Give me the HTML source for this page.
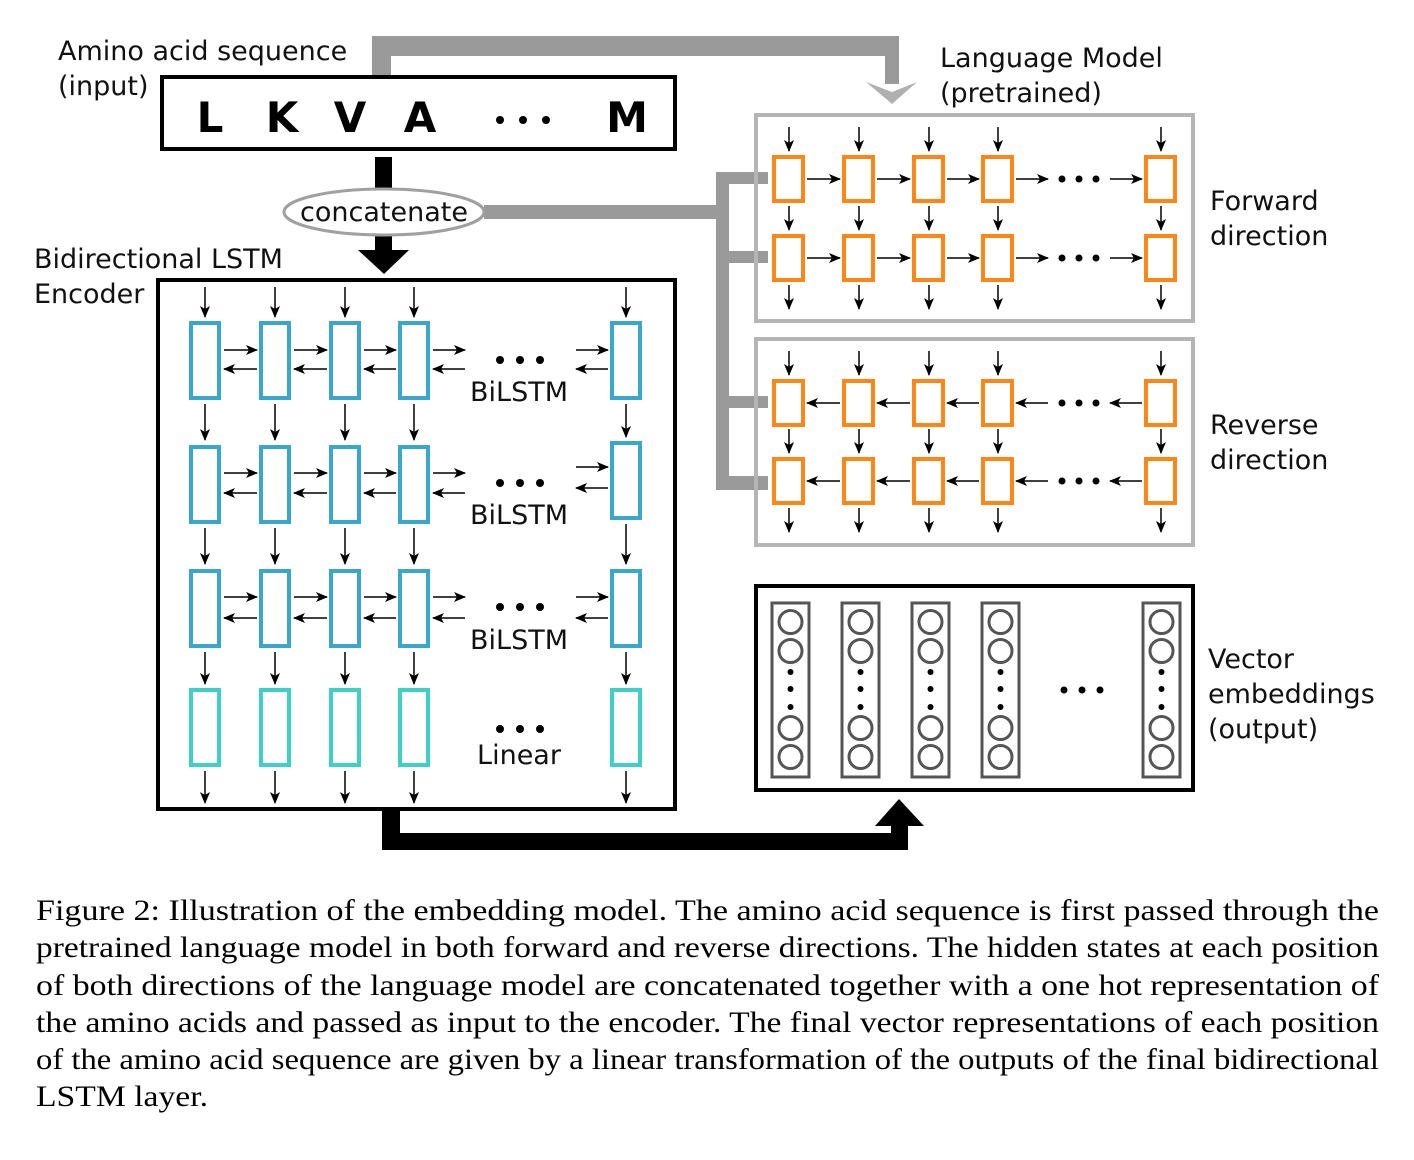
<!DOCTYPE html>
<html><head><meta charset="utf-8"><style>
html,body{margin:0;padding:0;background:#fff;}
svg{display:block;}
.lb{font-family:"DejaVu Sans","Liberation Sans",sans-serif;font-size:27px;fill:#111;}
.cap{font-family:"Liberation Serif",serif;font-size:29.5px;fill:#000;}
</style></head><body>
<svg width="1414" height="1160" viewBox="0 0 1414 1160" xmlns="http://www.w3.org/2000/svg">
<defs>
<marker id="a" markerWidth="12" markerHeight="10" refX="11" refY="5" orient="auto" markerUnits="userSpaceOnUse">
<path d="M0,0 L12,5 L0,10 L3,5 z" fill="#000"/></marker>
</defs>

<!-- labels -->
<text class="lb" x="58" y="60">Amino acid sequence</text>
<text class="lb" x="58" y="95">(input)</text>
<text class="lb" x="940" y="67">Language Model</text>
<text class="lb" x="940" y="102">(pretrained)</text>
<text class="lb" x="34" y="268">Bidirectional LSTM</text>
<text class="lb" x="34" y="303">Encoder</text>
<text class="lb" x="1210" y="210">Forward</text>
<text class="lb" x="1210" y="245">direction</text>
<text class="lb" x="1210" y="434">Reverse</text>
<text class="lb" x="1210" y="469">direction</text>
<text class="lb" x="1208" y="668">Vector</text>
<text class="lb" x="1208" y="703">embeddings</text>
<text class="lb" x="1208" y="738">(output)</text>

<!-- gray top arrow -->
<path d="M372,76 V36 H899 V84 H885 V56 H391 V76 z" fill="#9a9a9a"/>
<path d="M866,82 L892,104 L917,82 L892,92 z" fill="#b0b0b0"/>

<!-- input box -->
<rect x="162" y="77" width="513" height="72" fill="#fff" stroke="#000" stroke-width="4"/>
<g font-family="DejaVu Sans,Liberation Sans,sans-serif" font-weight="bold" font-size="42" fill="#000" text-anchor="middle">
<text x="210" y="132">L</text><text x="282" y="132">K</text><text x="350" y="132">V</text><text x="420" y="132">A</text><text x="627" y="132">M</text></g>
<circle cx="500" cy="120" r="4"/><circle cx="523" cy="120" r="4"/><circle cx="546" cy="120" r="4"/>

<!-- black arrow down & concatenate -->
<rect x="375" y="157" width="17" height="35" fill="#000"/>
<rect x="375" y="232" width="17" height="20" fill="#000"/>
<path d="M358,250 L409,250 L384,274 z" fill="#000"/>
<rect x="484" y="205" width="234" height="14" fill="#9a9a9a"/>
<ellipse cx="384" cy="212" rx="100" ry="23" fill="#fff" stroke="#a0a0a0" stroke-width="3"/>
<text class="lb" x="384" y="221" text-anchor="middle">concatenate</text>

<!-- gray connector bar -->
<rect x="716" y="172" width="13" height="318" fill="#9a9a9a"/>
<rect x="716" y="172" width="52" height="12" fill="#9a9a9a"/>
<rect x="716" y="251" width="52" height="12" fill="#9a9a9a"/>
<rect x="716" y="396" width="52" height="12" fill="#9a9a9a"/>
<rect x="716" y="476" width="52" height="14" fill="#9a9a9a"/>

<!-- LM boxes -->
<rect x="756" y="115" width="437" height="206" fill="none" stroke="#b5b5b5" stroke-width="4"/>
<rect x="756" y="339" width="437" height="206" fill="none" stroke="#b5b5b5" stroke-width="4"/>

<g fill="#fff" stroke="#ff8717" stroke-width="4">
<rect x="774" y="157" width="29" height="44"/><rect x="844" y="157" width="29" height="44"/><rect x="914" y="157" width="29" height="44"/><rect x="983" y="157" width="29" height="44"/><rect x="1146" y="157" width="29" height="44"/>
<rect x="774" y="236" width="29" height="44"/><rect x="844" y="236" width="29" height="44"/><rect x="914" y="236" width="29" height="44"/><rect x="983" y="236" width="29" height="44"/><rect x="1146" y="236" width="29" height="44"/>
<rect x="774" y="381" width="29" height="44"/><rect x="844" y="381" width="29" height="44"/><rect x="914" y="381" width="29" height="44"/><rect x="983" y="381" width="29" height="44"/><rect x="1146" y="381" width="29" height="44"/>
<rect x="774" y="459" width="29" height="44"/><rect x="844" y="459" width="29" height="44"/><rect x="914" y="459" width="29" height="44"/><rect x="983" y="459" width="29" height="44"/><rect x="1146" y="459" width="29" height="44"/>
</g>

<g stroke="#000" stroke-width="1.5" marker-end="url(#a)">
<!-- LM vertical arrows -->
<line x1="789" y1="127" x2="789" y2="151"/><line x1="859" y1="127" x2="859" y2="151"/><line x1="929" y1="127" x2="929" y2="151"/><line x1="998" y1="127" x2="998" y2="151"/><line x1="1161" y1="127" x2="1161" y2="151"/>
<line x1="789" y1="206" x2="789" y2="230"/><line x1="859" y1="206" x2="859" y2="230"/><line x1="929" y1="206" x2="929" y2="230"/><line x1="998" y1="206" x2="998" y2="230"/><line x1="1161" y1="206" x2="1161" y2="230"/>
<line x1="789" y1="285" x2="789" y2="309"/><line x1="859" y1="285" x2="859" y2="309"/><line x1="929" y1="285" x2="929" y2="309"/><line x1="998" y1="285" x2="998" y2="309"/><line x1="1161" y1="285" x2="1161" y2="309"/>
<line x1="789" y1="351" x2="789" y2="375"/><line x1="859" y1="351" x2="859" y2="375"/><line x1="929" y1="351" x2="929" y2="375"/><line x1="998" y1="351" x2="998" y2="375"/><line x1="1161" y1="351" x2="1161" y2="375"/>
<line x1="789" y1="429" x2="789" y2="453"/><line x1="859" y1="429" x2="859" y2="453"/><line x1="929" y1="429" x2="929" y2="453"/><line x1="998" y1="429" x2="998" y2="453"/><line x1="1161" y1="429" x2="1161" y2="453"/>
<line x1="789" y1="508" x2="789" y2="532"/><line x1="859" y1="508" x2="859" y2="532"/><line x1="929" y1="508" x2="929" y2="532"/><line x1="998" y1="508" x2="998" y2="532"/><line x1="1161" y1="508" x2="1161" y2="532"/>
<!-- forward horizontals -->
<line x1="807" y1="179" x2="840" y2="179"/><line x1="877" y1="179" x2="910" y2="179"/><line x1="947" y1="179" x2="979" y2="179"/><line x1="1016" y1="179" x2="1048" y2="179"/><line x1="1110" y1="179" x2="1142" y2="179"/>
<line x1="807" y1="258" x2="840" y2="258"/><line x1="877" y1="258" x2="910" y2="258"/><line x1="947" y1="258" x2="979" y2="258"/><line x1="1016" y1="258" x2="1048" y2="258"/><line x1="1110" y1="258" x2="1142" y2="258"/>
<!-- reverse horizontals -->
<line x1="840" y1="403" x2="807" y2="403"/><line x1="910" y1="403" x2="877" y2="403"/><line x1="979" y1="403" x2="947" y2="403"/><line x1="1048" y1="403" x2="1016" y2="403"/><line x1="1142" y1="403" x2="1110" y2="403"/>
<line x1="840" y1="481" x2="807" y2="481"/><line x1="910" y1="481" x2="877" y2="481"/><line x1="979" y1="481" x2="947" y2="481"/><line x1="1048" y1="481" x2="1016" y2="481"/><line x1="1142" y1="481" x2="1110" y2="481"/>
</g>
<g fill="#000">
<circle cx="1062" cy="179" r="3.5"/><circle cx="1079" cy="179" r="3.5"/><circle cx="1096" cy="179" r="3.5"/>
<circle cx="1062" cy="258" r="3.5"/><circle cx="1079" cy="258" r="3.5"/><circle cx="1096" cy="258" r="3.5"/>
<circle cx="1062" cy="403" r="3.5"/><circle cx="1079" cy="403" r="3.5"/><circle cx="1096" cy="403" r="3.5"/>
<circle cx="1062" cy="481" r="3.5"/><circle cx="1079" cy="481" r="3.5"/><circle cx="1096" cy="481" r="3.5"/>
</g>

<!-- bottom black arrow -->
<path d="M382,808 V850 H908 V826 H924 L899,799 L875,826 H891 V833 H400 V808 z" fill="#000"/>

<!-- encoder -->
<rect x="158" y="280" width="517" height="529" fill="#fff" stroke="#000" stroke-width="4"/>
<g fill="#fff" stroke="#3aa6c9" stroke-width="4">
<rect x="191" y="323" width="28" height="75"/><rect x="261" y="323" width="28" height="75"/><rect x="331" y="323" width="28" height="75"/><rect x="400" y="323" width="28" height="75"/><rect x="612" y="323" width="28" height="75"/>
<rect x="191" y="447" width="28" height="75"/><rect x="261" y="447" width="28" height="75"/><rect x="331" y="447" width="28" height="75"/><rect x="400" y="447" width="28" height="75"/><rect x="612" y="443" width="28" height="75"/>
<rect x="191" y="571" width="28" height="75"/><rect x="261" y="571" width="28" height="75"/><rect x="331" y="571" width="28" height="75"/><rect x="400" y="571" width="28" height="75"/><rect x="612" y="571" width="28" height="75"/>
</g>
<g fill="#fff" stroke="#3ed0c4" stroke-width="4">
<rect x="191" y="690" width="28" height="75"/><rect x="261" y="690" width="28" height="75"/><rect x="331" y="690" width="28" height="75"/><rect x="400" y="690" width="28" height="75"/><rect x="612" y="690" width="28" height="75"/>
</g>
<g stroke="#000" stroke-width="1.5" marker-end="url(#a)">
<line x1="205" y1="287" x2="205" y2="317"/><line x1="275" y1="287" x2="275" y2="317"/><line x1="345" y1="287" x2="345" y2="317"/><line x1="414" y1="287" x2="414" y2="317"/><line x1="626" y1="287" x2="626" y2="317"/>
<line x1="205" y1="404" x2="205" y2="440"/><line x1="275" y1="404" x2="275" y2="440"/><line x1="345" y1="404" x2="345" y2="440"/><line x1="414" y1="404" x2="414" y2="440"/><line x1="626" y1="404" x2="626" y2="437"/>
<line x1="205" y1="528" x2="205" y2="564"/><line x1="275" y1="528" x2="275" y2="564"/><line x1="345" y1="528" x2="345" y2="564"/><line x1="414" y1="528" x2="414" y2="564"/><line x1="626" y1="524" x2="626" y2="564"/>
<line x1="205" y1="652" x2="205" y2="684"/><line x1="275" y1="652" x2="275" y2="684"/><line x1="345" y1="652" x2="345" y2="684"/><line x1="414" y1="652" x2="414" y2="684"/><line x1="626" y1="652" x2="626" y2="684"/>
<line x1="205" y1="771" x2="205" y2="803"/><line x1="275" y1="771" x2="275" y2="803"/><line x1="345" y1="771" x2="345" y2="803"/><line x1="414" y1="771" x2="414" y2="803"/><line x1="626" y1="771" x2="626" y2="803"/>
<!-- bilstm row1 -->
<line x1="224" y1="350" x2="257" y2="350"/><line x1="294" y1="350" x2="327" y2="350"/><line x1="364" y1="350" x2="396" y2="350"/><line x1="433" y1="350" x2="465" y2="350"/><line x1="576" y1="350" x2="608" y2="350"/>
<line x1="257" y1="369" x2="224" y2="369"/><line x1="327" y1="369" x2="294" y2="369"/><line x1="396" y1="369" x2="364" y2="369"/><line x1="465" y1="369" x2="433" y2="369"/><line x1="608" y1="369" x2="576" y2="369"/>
<!-- row2 -->
<line x1="224" y1="473" x2="257" y2="473"/><line x1="294" y1="473" x2="327" y2="473"/><line x1="364" y1="473" x2="396" y2="473"/><line x1="433" y1="473" x2="465" y2="473"/><line x1="576" y1="467" x2="608" y2="467"/>
<line x1="257" y1="493" x2="224" y2="493"/><line x1="327" y1="493" x2="294" y2="493"/><line x1="396" y1="493" x2="364" y2="493"/><line x1="465" y1="493" x2="433" y2="493"/><line x1="608" y1="488" x2="576" y2="488"/>
<!-- row3 -->
<line x1="224" y1="597" x2="257" y2="597"/><line x1="294" y1="597" x2="327" y2="597"/><line x1="364" y1="597" x2="396" y2="597"/><line x1="433" y1="597" x2="465" y2="597"/><line x1="576" y1="597" x2="608" y2="597"/>
<line x1="257" y1="618" x2="224" y2="618"/><line x1="327" y1="618" x2="294" y2="618"/><line x1="396" y1="618" x2="364" y2="618"/><line x1="465" y1="618" x2="433" y2="618"/><line x1="608" y1="618" x2="576" y2="618"/>
</g>
<g fill="#000">
<circle cx="500" cy="360" r="4"/><circle cx="520" cy="360" r="4"/><circle cx="540" cy="360" r="4"/>
<circle cx="500" cy="483" r="4"/><circle cx="520" cy="483" r="4"/><circle cx="540" cy="483" r="4"/>
<circle cx="500" cy="607" r="4"/><circle cx="520" cy="607" r="4"/><circle cx="540" cy="607" r="4"/>
<circle cx="500" cy="729" r="4"/><circle cx="520" cy="729" r="4"/><circle cx="540" cy="729" r="4"/>
</g>
<text class="lb" x="519" y="401" text-anchor="middle">BiLSTM</text>
<text class="lb" x="519" y="524" text-anchor="middle">BiLSTM</text>
<text class="lb" x="519" y="649" text-anchor="middle">BiLSTM</text>
<text class="lb" x="519" y="764" text-anchor="middle">Linear</text>

<!-- vector embeddings -->
<rect x="756" y="586" width="437" height="204" fill="#fff" stroke="#000" stroke-width="4"/>
<g fill="none" stroke="#555" stroke-width="3">
<rect x="772" y="603" width="37" height="174"/><rect x="842" y="603" width="37" height="174"/><rect x="912" y="603" width="37" height="174"/><rect x="982" y="603" width="37" height="174"/><rect x="1143" y="603" width="37" height="174"/>
<circle cx="790.5" cy="622" r="11.5"/><circle cx="790.5" cy="651" r="11.5"/><circle cx="790.5" cy="728" r="11.5"/><circle cx="790.5" cy="757" r="11.5"/>
<circle cx="860.5" cy="622" r="11.5"/><circle cx="860.5" cy="651" r="11.5"/><circle cx="860.5" cy="728" r="11.5"/><circle cx="860.5" cy="757" r="11.5"/>
<circle cx="930.5" cy="622" r="11.5"/><circle cx="930.5" cy="651" r="11.5"/><circle cx="930.5" cy="728" r="11.5"/><circle cx="930.5" cy="757" r="11.5"/>
<circle cx="1000.5" cy="622" r="11.5"/><circle cx="1000.5" cy="651" r="11.5"/><circle cx="1000.5" cy="728" r="11.5"/><circle cx="1000.5" cy="757" r="11.5"/>
<circle cx="1161.5" cy="622" r="11.5"/><circle cx="1161.5" cy="651" r="11.5"/><circle cx="1161.5" cy="728" r="11.5"/><circle cx="1161.5" cy="757" r="11.5"/>
</g>
<g fill="#000">
<circle cx="790.5" cy="672" r="3"/><circle cx="790.5" cy="689" r="3"/><circle cx="790.5" cy="707" r="3"/>
<circle cx="860.5" cy="672" r="3"/><circle cx="860.5" cy="689" r="3"/><circle cx="860.5" cy="707" r="3"/>
<circle cx="930.5" cy="672" r="3"/><circle cx="930.5" cy="689" r="3"/><circle cx="930.5" cy="707" r="3"/>
<circle cx="1000.5" cy="672" r="3"/><circle cx="1000.5" cy="689" r="3"/><circle cx="1000.5" cy="707" r="3"/>
<circle cx="1161.5" cy="672" r="3"/><circle cx="1161.5" cy="689" r="3"/><circle cx="1161.5" cy="707" r="3"/>
<circle cx="1064" cy="690" r="3.5"/><circle cx="1082" cy="690" r="3.5"/><circle cx="1100" cy="690" r="3.5"/>
</g>

<!-- caption -->
<text class="cap" x="36" y="920" textLength="1343" lengthAdjust="spacingAndGlyphs">Figure 2: Illustration of the embedding model. The amino acid sequence is first passed through the</text>
<text class="cap" x="36" y="957" textLength="1343" lengthAdjust="spacingAndGlyphs">pretrained language model in both forward and reverse directions. The hidden states at each position</text>
<text class="cap" x="36" y="995" textLength="1343" lengthAdjust="spacingAndGlyphs">of both directions of the language model are concatenated together with a one hot representation of</text>
<text class="cap" x="36" y="1032" textLength="1343" lengthAdjust="spacingAndGlyphs">the amino acids and passed as input to the encoder. The final vector representations of each position</text>
<text class="cap" x="36" y="1069" textLength="1343" lengthAdjust="spacingAndGlyphs">of the amino acid sequence are given by a linear transformation of the outputs of the final bidirectional</text>
<text class="cap" x="36" y="1106" textLength="172" lengthAdjust="spacingAndGlyphs">LSTM layer.</text>
</svg>
</body></html>
